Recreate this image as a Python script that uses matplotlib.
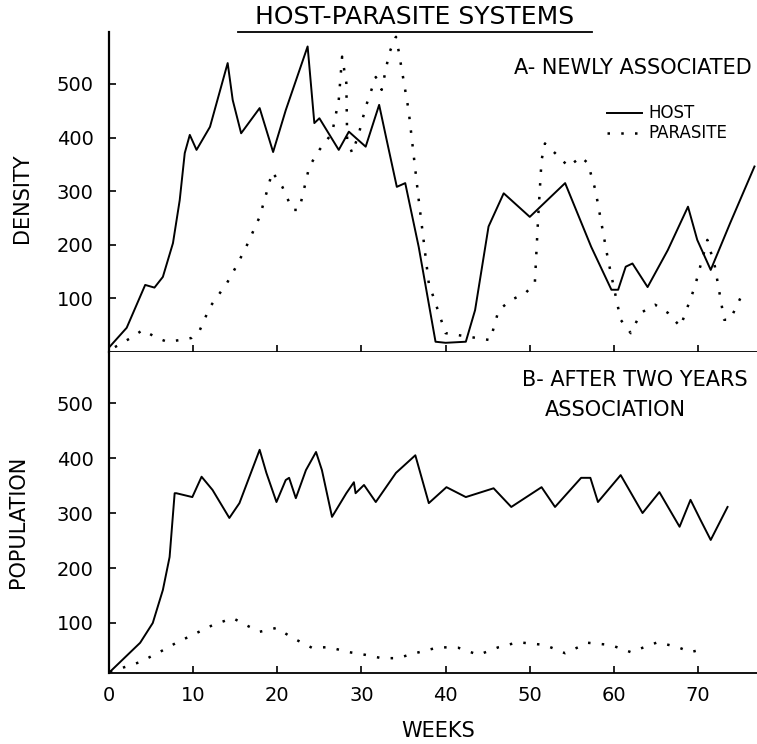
import numpy as np
import matplotlib
matplotlib.use("Agg")
import matplotlib.pyplot as plt
from matplotlib.lines import Line2D

plt.rcParams['font.family'] = ['DejaVu Sans']

# A - newly associated (density)
host_a_weeks = [0.1, 2.1, 4.3, 5.4, 6.4, 7.6, 8.4, 9.0, 9.6, 10.4, 12.0, 14.1, 14.7, 15.7,
                17.9, 19.5, 21.0, 23.6, 24.4, 25.0, 27.3, 28.5, 30.5, 32.1, 33.0, 34.2,
                35.2, 36.8, 38.8, 40.0, 42.4, 43.5, 45.1, 46.9, 50.0, 54.2, 57.3, 59.7,
                60.5, 61.4, 62.2, 64.0, 66.4, 68.8, 69.9, 71.5, 73.8, 76.7]
host_a = [10, 45, 125, 120, 140, 203, 283, 371, 405, 377, 420, 539, 470, 408,
          455, 373, 451, 570, 427, 436, 377, 411, 383, 461, 395, 308,
          315, 196, 19, 17, 19, 78, 234, 296, 252, 315, 196, 116,
          116, 159, 165, 121, 190, 271, 209, 153, 240, 346]

para_a_weeks = [0.7, 2.8, 4.0, 5.7, 6.9, 8.4, 9.8, 10.8, 12.0, 14.0, 15.1, 16.3, 17.9,
                18.7, 19.4, 20.6, 21.8, 22.6, 23.8, 25.0, 26.5, 27.3, 27.7, 28.2, 28.3,
                28.9, 29.7, 30.5, 31.7, 32.4, 33.3, 34.1, 34.4, 35.6, 36.8, 38.0, 40.0,
                45.3, 46.3, 47.8, 49.5, 50.6, 51.0, 51.4, 51.8, 53.0, 54.6, 56.1, 56.9,
                57.8, 59.3, 60.8, 62.0, 63.2, 64.9, 66.4, 67.9, 69.6, 71.1, 72.0, 73.1,
                73.8, 75.5]
para_a = [9, 28, 41, 26, 19, 22, 26, 41, 84, 128, 159, 196, 252,
          296, 336, 308, 265, 265, 346, 377, 408, 470, 551, 502, 396,
          371, 408, 457, 513, 489, 558, 588, 563, 451, 284, 128, 35,
          22, 78, 97, 110, 128, 252, 358, 389, 371, 346, 364, 352,
          302, 172, 60, 35, 73, 88, 73, 47, 121, 209, 159, 60,
          60, 116]

# B - after two years association (population)
host_b_weeks = [0.1, 3.7, 5.2, 6.4, 7.2, 7.8, 8.0, 9.9, 11.0, 12.3, 14.3, 15.5, 17.9,
                18.7, 19.9, 21.0, 21.4, 22.2, 23.4, 24.6, 25.3, 26.5, 28.2, 29.1, 29.3,
                30.3, 31.7, 34.1, 36.4, 38.0, 40.1, 42.4, 45.7, 47.8, 51.4, 53.0, 56.1,
                57.2, 58.1, 60.8, 63.4, 65.4, 67.8, 69.1, 70.3, 71.5, 73.5]
host_b = [11, 64, 100, 160, 220, 336, 336, 329, 366, 342, 291, 318, 415,
          373, 320, 360, 364, 327, 378, 411, 378, 293, 336, 356, 336,
          351, 320, 373, 405, 318, 347, 329, 345, 311, 347, 311, 364,
          364, 320, 369, 300, 338, 275, 324, 287, 251, 311]

para_b_weeks = [0.1, 3.7, 6.0, 8.0, 9.9, 12.3, 14.7, 16.3, 17.9, 19.9, 21.8, 24.1, 26.1,
                28.5, 30.5, 32.4, 34.4, 35.6, 39.2, 41.5, 43.9, 46.3, 48.6, 51.8, 54.2,
                56.9, 59.6, 62.0, 65.2, 67.6, 69.1, 70.2]
para_b = [11, 29, 47, 64, 78, 96, 109, 96, 84, 91, 73, 55, 56,
          47, 42, 36, 36, 42, 56, 55, 42, 56, 65, 60, 45,
          64, 60, 47, 65, 56, 47, 51]

x_ticks = [0, 10, 20, 30, 40, 50, 60, 70]
y_ticks = [100, 200, 300, 400, 500]

fig = plt.figure(figsize=(7.57, 7.44), dpi=100)
ax_a = fig.add_axes([0.144, 0.527, 0.856, 0.430])
ax_b = fig.add_axes([0.144, 0.0954, 0.856, 0.4316])

dot_style = (0, (1, 4.5))
for ax in (ax_a, ax_b):
    ax.set_xlim(0, 77)
    ax.set_xticks(x_ticks)
    ax.set_yticks(y_ticks)
    ax.spines['top'].set_visible(False)
    ax.spines['right'].set_visible(False)
    ax.spines['left'].set_linewidth(1.6)
    ax.spines['bottom'].set_linewidth(1.3)
    ax.tick_params(direction='in', length=5, width=1.2, labelsize=14, pad=11)
    ax.tick_params(axis='x', pad=9)
    ax.set_facecolor('white')

ax_a.set_ylim(0, 597)
ax_b.set_ylim(9, 593)
ax_a.tick_params(axis='x', labelbottom=False)

ax_a.plot(host_a_weeks, host_a, color='black', lw=1.4)
ax_a.plot(para_a_weeks, para_a, color='black', lw=1.8, ls=dot_style)
ax_b.plot(host_b_weeks, host_b, color='black', lw=1.4)
ax_b.plot(para_b_weeks, para_b, color='black', lw=1.8, ls=dot_style)

# panel texts
ax_a.text(0.992, 0.8875, 'A- NEWLY ASSOCIATED', transform=ax_a.transAxes,
          ha='right', va='center', fontsize=15)
ax_a.add_line(Line2D([0.769, 0.823], [0.747, 0.747], transform=ax_a.transAxes,
                     color='black', lw=1.4))
ax_a.add_line(Line2D([0.769, 0.823], [0.684, 0.684], transform=ax_a.transAxes,
                     color='black', lw=1.8, ls=dot_style))
ax_a.text(0.832, 0.747, 'HOST', transform=ax_a.transAxes, ha='left', va='center', fontsize=12)
ax_a.text(0.832, 0.684, 'PARASITE', transform=ax_a.transAxes, ha='left', va='center', fontsize=12)

ax_b.text(0.986, 0.913, 'B- AFTER TWO YEARS', transform=ax_b.transAxes,
          ha='right', va='center', fontsize=15)
ax_b.text(0.781, 0.820, 'ASSOCIATION', transform=ax_b.transAxes,
          ha='center', va='center', fontsize=15)

# title with underline
fig.text(0.548, 0.977, 'HOST-PARASITE SYSTEMS', ha='center', va='center', fontsize=18)
fig.add_artist(Line2D([238 / 757, 592 / 757], [0.957, 0.957], color='black', lw=1.3))

fig.text(0.029, 0.734, 'DENSITY', rotation=90, ha='center', va='center', fontsize=15)
fig.text(0.024, 0.298, 'POPULATION', rotation=90, ha='center', va='center', fontsize=15)
fig.text(0.579, 0.0175, 'WEEKS', ha='center', va='center', fontsize=15)

fig.savefig('out.png', dpi=100, facecolor='white')
